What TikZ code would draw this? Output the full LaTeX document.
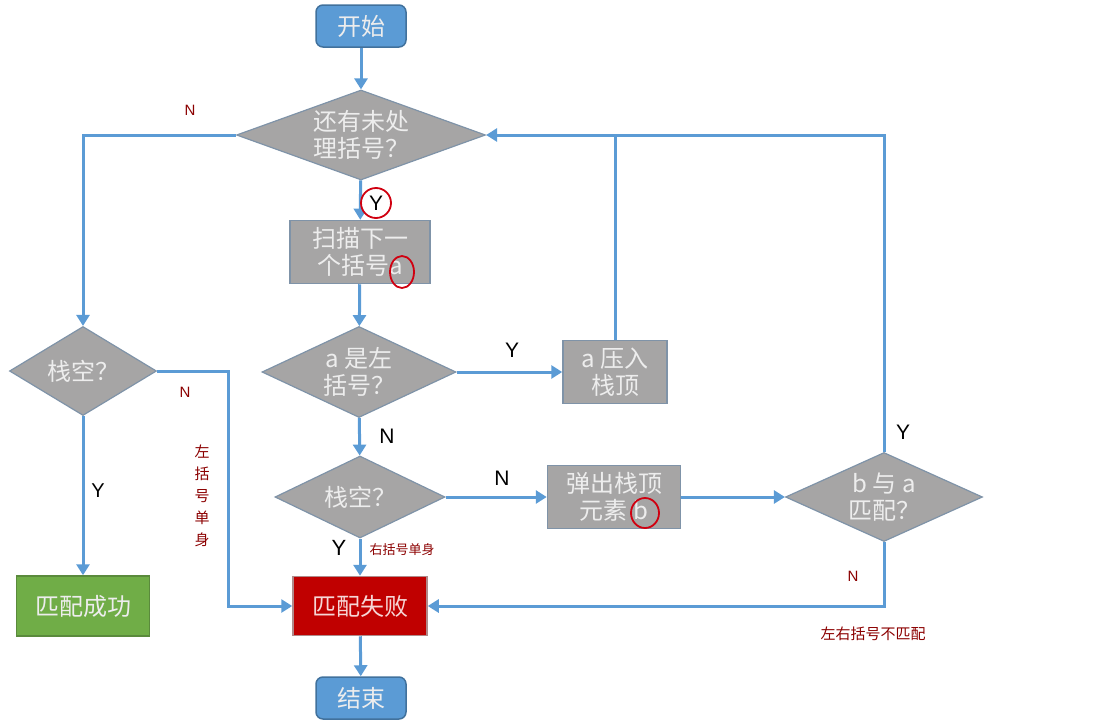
\documentclass[tikz,border=0pt]{standalone}
\usepackage{fontspec}
\setmainfont{Noto Sans CJK SC}
\newfontfamily\lat{Liberation Sans}
\usetikzlibrary{shapes.geometric,arrows.meta}
\definecolor{flow}{HTML}{5B9BD5}
\definecolor{termfill}{HTML}{5B9BD5}
\definecolor{termdraw}{HTML}{41719C}
\definecolor{greyfill}{HTML}{A6A5A5}
\definecolor{greydraw}{HTML}{7F93A8}
\definecolor{greytext}{HTML}{EDEDED}
\definecolor{okfill}{HTML}{70AD47}
\definecolor{okdraw}{HTML}{5A8A3C}
\definecolor{failfill}{HTML}{C00000}
\definecolor{faildraw}{HTML}{B08A8A}
\definecolor{failtext}{HTML}{F6D6D6}
\definecolor{note}{HTML}{8B0000}
\definecolor{mark}{HTML}{D00010}
\tikzset{
  txt/.style={font=\fontsize{24}{27}\selectfont, align=center},
  term/.style={txt, rounded corners=7pt, fill=termfill, draw=termdraw, line width=1.5pt, text=greytext, minimum width=90pt, minimum height=42pt, inner sep=0pt},
  proc/.style={txt, rectangle, fill=greyfill, draw=greydraw, line width=1.5pt, text=greytext, inner sep=0pt},
  dec/.style={txt, diamond, fill=greyfill, draw=greydraw, line width=1.2pt, text=greytext, inner sep=-20pt},
  arr/.style={draw=flow, line width=3pt, -{Triangle[width=13pt,length=11pt]}},
  ln/.style={draw=flow, line width=3pt},
  yn/.style={font=\lat\fontsize{21}{21}\selectfont, text=black},
  rn/.style={font=\lat\fontsize{15}{15}\selectfont, text=note},
  rt/.style={font=\fontsize{15}{22}\selectfont, text=note, align=center},
  redc/.style={draw=mark, line width=1.8pt},
}
\begin{document}
\begin{tikzpicture}[x=1pt,y=-1pt]
\useasboundingbox (0,0) rectangle (1103,723);
% nodes
\node[term] (start) at (361,26) {开始};
\node[dec, minimum width=249pt, minimum height=90pt] (d1) at (361,135) {还有未处\\理括号？};
\node[proc, minimum width=140pt, minimum height=63pt] (scan) at (360,252) {扫描下一\\个括号a};
\node[dec, minimum width=194pt, minimum height=91pt] (d2) at (359,372) {a 是左\\括号？};
\node[proc, minimum width=104pt, minimum height=63pt] (push) at (615,372) {a 压入\\栈顶};
\node[dec, minimum width=170pt, minimum height=82pt] (d3) at (360,497) {栈空？};
\node[proc, minimum width=133pt, minimum height=63pt] (pop) at (614,497) {弹出栈顶\\元素 b};
\node[dec, minimum width=197pt, minimum height=89pt] (d4) at (884,497) {b 与 a\\匹配？};
\node[proc, fill=failfill, draw=faildraw, text=failtext, minimum width=134pt, minimum height=59pt] (fail) at (360,606) {匹配失败};
\node[term] (end) at (361,698) {结束};
\node[dec, minimum width=147pt, minimum height=89pt] (ld) at (83,371) {栈空？};
\node[proc, fill=okfill, draw=okdraw, text=greytext, minimum width=133pt, minimum height=60pt] (ok) at (83,606) {匹配成功};
\coordinate (lk) at (228,371);
% connectors
\draw[arr] (start) -- (d1);
\draw[arr] (d1) -- (scan);
\draw[arr] (scan) -- (d2);
\draw[arr] (d2) -- (push);
\draw[ln] (push.north) -- (push.north |- d1.east);
\draw[arr] (d4.north) |- (d1.east);
\draw[arr] (d2) -- (d3);
\draw[arr] (d3) -- (pop);
\draw[arr] (pop) -- (d4);
\draw[arr] (d4.south) |- (fail.east);
\draw[arr] (d3) -- (fail);
\draw[arr] (fail) -- (end);
\draw[arr] (d1.west) -| (ld.north);
\draw[arr] (ld) -- (ok);
\draw[arr] (ld.east) -- (lk) |- (fail.west);
% labels
\node[yn, circle, fill=white, redc, inner sep=1pt, minimum size=30pt] (ly1) at (376,203) {Y};
\draw[redc] (402,272) ellipse (12pt and 16pt);
\draw[redc] (645,513) ellipse (14pt and 15pt);
\node[yn] (ly2) at (512,350) {Y};
\node[yn] (ln2) at (387,436) {N};
\node[yn] (ln3) at (502,478) {N};
\node[yn] (ly4) at (903,432) {Y};
\node[rn] (ln4) at (853,576) {N};
\node[rt] (t4) at (873,634) {左右括号不匹配};
\node[yn, font=\lat\fontsize{22}{22}\selectfont] (ly3) at (339,548) {Y};
\node[rt, font=\fontsize{13}{13}\selectfont] (t3) at (402,550) {右括号单身};
\node[rn] (ln1) at (190,110) {N};
\node[yn, font=\lat\fontsize{20}{20}\selectfont] (ly5) at (98,491) {Y};
\node[rn] (ln5) at (185,392) {N};
\node[rt] (t5) at (202,496) {左\\括\\号\\单\\身};
\end{tikzpicture}
\end{document}
